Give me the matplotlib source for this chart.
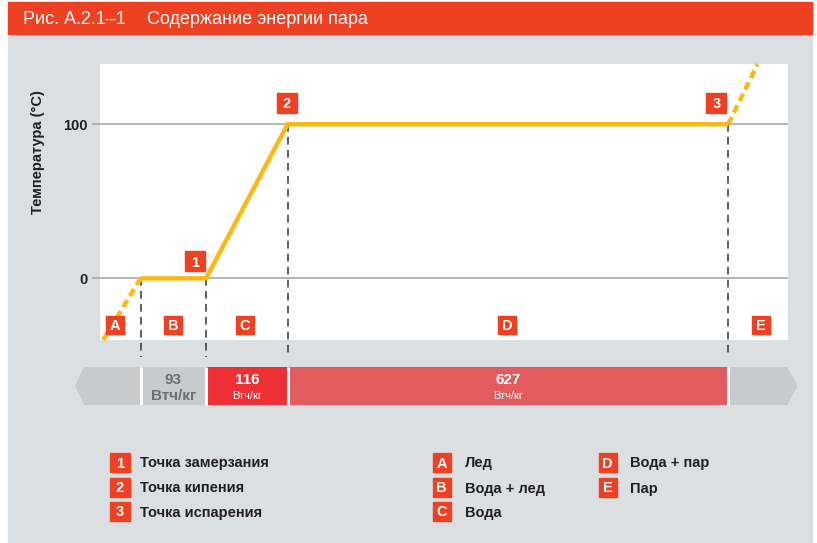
import matplotlib.pyplot as plt
from matplotlib.patches import Rectangle, Polygon
from matplotlib import font_manager
import numpy as np

# ДАННЫЕ
segment_values = [93, 116, 627]             # Втч/кг: вода+лед, вода, вода+пар
segment_colors = ['#C8CACC', '#EE3034', '#E35B5D']
segment_text_colors = ['#6D6E70', 'white', 'white']
phase_temps = [0, 0, 100, 100]              # °C в точках 0, 1, 2, 3
ice_start = (-53.6, -40)                    # начало пунктира (лед)
steam_end = (877.7, 139)                    # конец пунктира (пар)
point_labels = ['1', '2', '3']
point_label_x = [77, 208, 819]
point_label_y = [11, 114, 114]
region_labels = ['A', 'B', 'C', 'D', 'E']
region_label_x = [-36, 46, 148, 521, 882]
region_label_y = -30
legend_points = ['Точка замерзания', 'Точка кипения', 'Точка испарения']
legend_regions = ['Лед', 'Вода + лед', 'Вода', 'Вода + пар', 'Пар']
title_num = 'Рис. А.2.1–1'
title_text = 'Содержание энергии пара'
unit = 'Втч/кг'

RED = '#EE4123'
ORANGE = '#FDB813'
GRAY_BG = '#DCDFE2'
DARK = '#231F20'
GRID = '#A7A9AC'

plt.rcParams['font.family'] = ['Liberation Sans', 'DejaVu Sans']
names = {f.name for f in font_manager.fontManager.ttflist}
narrow = 'Liberation Sans Narrow' in names

W, H = 817, 543
fig = plt.figure(figsize=(W / 100, H / 100), dpi=100)
fig.patch.set_facecolor('white')


def fx(x):
    return x / W


def fy(y):
    return 1 - y / H


# фон и заголовок
fig.add_artist(Rectangle((fx(8), 0), 804 / W, (H - 34) / H, color=GRAY_BG, transform=fig.transFigure, zorder=0))
fig.add_artist(Rectangle((fx(8), fy(34)), 804 / W, 32 / H, color=RED, transform=fig.transFigure, zorder=0))
if narrow:
    tfam, tsize = ['Liberation Sans Narrow', 'DejaVu Sans'], 15
else:
    tfam, tsize = ['Liberation Sans', 'DejaVu Sans'], 13
fig.text(fx(23), fy(19), title_num, color='white', fontsize=tsize, family=tfam, va='center')
fig.text(fx(147), fy(19), title_text, color='white', fontsize=tsize, family=tfam, va='center')

# основной график
breaks = np.concatenate([[0], np.cumsum(segment_values)])
ax = fig.add_axes([fx(100), fy(340), 688 / W, 276 / H])
ax.set_xlim(-57.9, 921)
ax.set_ylim(-40, 139.1)
ax.set_facecolor('white')
for s in ax.spines.values():
    s.set_visible(False)
ax.set_xticks([])
ax.set_yticks([0, 100])
ax.tick_params(axis='y', length=6, color=GRID, width=1.2, pad=3, labelsize=10.5, labelcolor=DARK)
for t in ax.get_yticklabels():
    t.set_fontweight('bold')
ax.yaxis.grid(True, color=GRID, lw=1.2)
ax.set_axisbelow(True)

ax.plot(breaks, phase_temps, color=ORANGE, lw=3.2, zorder=3, solid_capstyle='butt')
ax.plot([ice_start[0], breaks[0]], [ice_start[1], phase_temps[0]], color=ORANGE, lw=3.2,
        ls=(0, (1.8, 1.1)), zorder=3, clip_on=False)
ax.plot([breaks[-1], steam_end[0]], [phase_temps[-1], steam_end[1]], color=ORANGE, lw=3.2,
        ls=(0, (1.8, 1.1)), zorder=3, clip_on=False)

for x, t in zip(breaks, phase_temps):
    ax.plot([x, x], [t, -51], color='#333333', lw=1.1, ls=(0, (5, 3.5)), clip_on=False, zorder=2)

for lab, x, y in zip(point_labels, point_label_x, point_label_y):
    ax.plot(x, y, marker='s', ms=14, color=RED, ls='none', zorder=4)
    ax.text(x, y, lab, color='white', weight='bold', fontsize=10.5, ha='center', va='center_baseline', zorder=5)
for lab, x in zip(region_labels, region_label_x):
    ax.plot(x, region_label_y, marker='s', ms=13, color=RED, ls='none', zorder=4)
    ax.text(x, region_label_y, lab, color='white', weight='bold', fontsize=10.5, ha='center',
            va='center_baseline', zorder=5)

fig.text(fx(38), fy(152), 'Температура (°C)', rotation=90, ha='center', va='center',
         weight='bold', fontsize=10.5, color=DARK)

# полоса энергии
ax2 = fig.add_axes([fx(100), fy(405), 688 / W, 38 / H])
ax2.set_xlim(ax.get_xlim())
ax2.set_ylim(0, 1)
ax2.axis('off')
lefts = breaks[:-1]
ax2.barh(0.5, segment_values, left=lefts, height=1, color=segment_colors, edgecolor='none')
ax2.add_patch(Polygon([(-80.6, 0), (0, 0), (0, 1), (-80.6, 1), (-93.4, 0.5)], closed=True,
                      fc='#C8CACC', ec='none', clip_on=False))
ax2.add_patch(Polygon([(breaks[-1], 0), (920, 0), (934.5, 0.5), (920, 1), (breaks[-1], 1)], closed=True,
                      fc='#C8CACC', ec='none', clip_on=False))
ax2.vlines(breaks, 0, 1, color='white', lw=2.2, zorder=3)
for i, (v, l, c) in enumerate(zip(segment_values, lefts, segment_text_colors)):
    cx = l + v / 2
    ax2.text(cx, 0.66, str(v), color=c, weight='bold', fontsize=11, ha='center', va='center')
    if i == 0:
        ax2.text(cx, 0.24, unit, color=c, weight='bold', fontsize=11, ha='center', va='center')
    else:
        ax2.text(cx, 0.24, unit, color=c, fontsize=8, ha='center', va='center')

# легенда


def legend_item(bx, tx, cy, key, text, bw=19):
    fig.add_artist(Rectangle((fx(bx - bw / 2), fy(cy + 9.5)), bw / W, 19 / H, color=RED,
                             transform=fig.transFigure))
    fig.text(fx(bx), fy(cy), key, color='white', weight='bold', fontsize=10.5, ha='center', va='center_baseline')
    fig.text(fx(tx), fy(cy), text, color=DARK, weight='bold', fontsize=10.5, ha='left', va='center_baseline')


rows = [462, 487, 511]
for i, (k, t) in enumerate(zip(point_labels, legend_points)):
    legend_item(120, 140, rows[i], k, t, bw=20)
for i, (k, t) in enumerate(zip(region_labels, legend_regions)):
    if i < 3:
        legend_item(441.5, 465, rows[i], k, t, bw=18)
    else:
        legend_item(607.5, 630, rows[i - 3], k, t, bw=18)

fig.savefig('out.png', dpi=100)
